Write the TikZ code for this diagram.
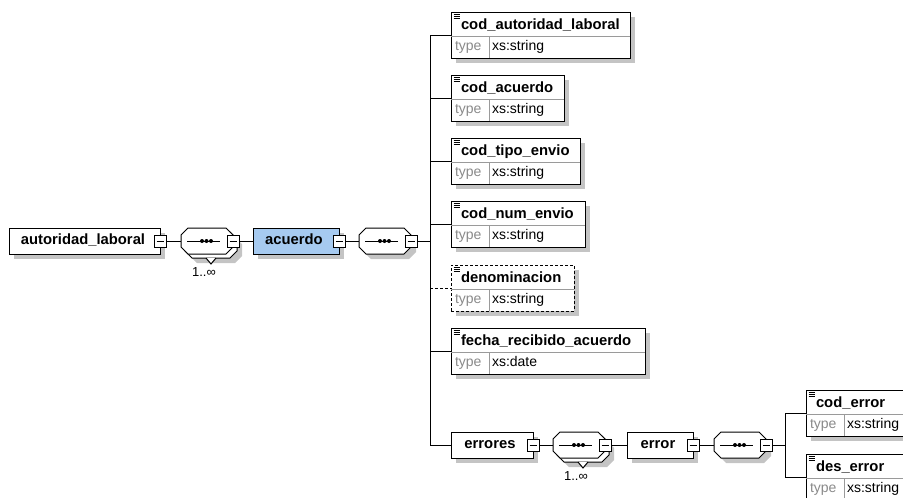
\documentclass[tikz,border=0pt]{standalone}
\usepackage{fontspec}
\setmainfont{Liberation Sans}
\usetikzlibrary{shadows,calc}
\definecolor{shadowgray}{HTML}{C4C4C4}
\definecolor{acblue}{HTML}{A6CAF0}
\definecolor{divgray}{HTML}{9A9A9A}
\definecolor{typegray}{HTML}{8A8A8A}
\tikzset{
 shad/.style={drop shadow={shadow xshift=5pt,shadow yshift=-5pt,fill=shadowgray,opacity=1}},
 elem/.style={draw, line width=1pt, fill=white, minimum height=26pt, inner sep=0pt, outer sep=0pt, shad},
 childbox/.style={draw, line width=1pt, fill=white, minimum height=46pt, inner sep=0pt, outer sep=0pt, anchor=west, shad},
 comp/.style={rectangle, draw=none, minimum width=52pt, minimum height=26pt, inner sep=0pt, outer sep=0pt},
 octo/.style={line width=1pt, draw=black, fill=white},
 minusbox/.style={draw, line width=1pt, fill=white, minimum size=12pt, inner sep=0pt, outer sep=0pt,
   path picture={\draw[line width=1pt] ([xshift=2.5pt]path picture bounding box.west) -- ([xshift=-2.5pt]path picture bounding box.east);}},
 conn/.style={line width=1pt, draw=black},
 divider/.style={line width=1pt, draw=divgray},
 ttl/.style={font=\fontsize{14.8}{16}\selectfont\bfseries, inner sep=0pt, outer sep=0pt},
 typelbl/.style={font=\fontsize{14}{16}\selectfont, text=typegray, inner sep=0pt, outer sep=0pt},
 typeval/.style={font=\fontsize{14}{16}\selectfont, text=black, inner sep=0pt, outer sep=0pt},
 mult/.style={font=\fontsize{13}{15}\selectfont, inner sep=0pt, outer sep=0pt},
 vnotch/.style={line width=1pt, fill=white},
}
% #1 name, #2 x (left), #3 y (center), #4 width, #5 title, #6 type, #7 extra style
\newcommand{\childel}[7]{%
 \node[childbox, minimum width=#4pt, #7] (#1) at (#2,#3) {};
 \draw[divider] ([yshift=-24pt]#1.north west) -- ([yshift=-24pt]#1.north east);
 \draw[divider] ([xshift=38pt,yshift=-24pt]#1.north west) -- ([xshift=38pt]#1.south west);
 \node[ttl, anchor=base west] (#1-t) at ([xshift=10pt,yshift=-17.5pt]#1.north west) {#5};
 \node[typelbl, anchor=base west] (#1-k) at ([xshift=4pt,yshift=-38pt]#1.north west) {type};
 \node[typeval, anchor=base west] (#1-v) at ([xshift=41pt,yshift=-38pt]#1.north west) {#6};
 \draw[line width=0.8pt] ([xshift=2.5pt,yshift=-2.5pt]#1.north west) -- ++(6,0);
 \draw[line width=0.8pt] ([xshift=2.5pt,yshift=-4.3pt]#1.north west) -- ++(6,0);
 \draw[line width=0.8pt] ([xshift=2.5pt,yshift=-6.1pt]#1.north west) -- ++(6,0);
}
% octagon outline on a compositor node: #1 name, #2 extra style
\newcommand{\octo}[2]{%
 \path[octo, #2] ([xshift=7pt]#1.north west) -- ([xshift=-7pt]#1.north east) -- ([yshift=-7pt]#1.north east)
   -- ([yshift=7pt]#1.south east) -- ([xshift=-7pt]#1.south east) -- ([xshift=7pt]#1.south west)
   -- ([yshift=7pt]#1.south west) -- ([yshift=-7pt]#1.north west) -- cycle;
}
\newcommand{\compdots}[1]{%
 \draw[line width=1pt] ([xshift=-20pt]#1.center) -- ([xshift=13pt]#1.center);
 \fill ([xshift=-5pt]#1.center) circle (2);
 \fill ([xshift=-0.5pt]#1.center) circle (2);
 \fill ([xshift=4pt]#1.center) circle (2);
}
\begin{document}
\begin{tikzpicture}[x=1pt,y=-1pt]
\useasboundingbox (0,0) rectangle (903,498);
\clip (0,0) rectangle (903,498);

% root element
\node[elem, minimum width=151pt] (root) at (84.5,241) {};
\node[ttl, anchor=base] (root-t) at (83,244.5) {autoridad\_laboral};
\node[minusbox] (root-m) at (root.east) {};

% sequence 1..inf
\node[comp] (c1b) at (211,245) {};
\octo{c1b}{shad}
\draw[vnotch] ([xshift=-5pt]c1b.south) -- ([yshift=-6pt]c1b.south) -- ([xshift=5pt]c1b.south);
\node[comp] (c1) at (207,241) {};
\octo{c1}{}
\compdots{c1}
\node[minusbox] (c1-m) at (c1.east) {};
\node[mult] (c1-x) at (204,272) {1..∞};

% acuerdo
\node[elem, fill=acblue, minimum width=86pt] (acu) at (296,241) {};
\node[ttl, anchor=base] (acu-t) at (294,244.5) {acuerdo};
\node[minusbox] (acu-m) at (acu.east) {};

% sequence 2
\node[comp] (c2) at (385,241) {};
\octo{c2}{shad}
\compdots{c2}
\node[minusbox] (c2-m) at (c2.east) {};

\coordinate (bus) at (430,241);
\coordinate (busT) at (430,35);
\coordinate (busB) at (430,445);

% children
\childel{ch1}{451}{35}{179}{cod\_autoridad\_laboral}{xs:string}{}
\childel{ch2}{451}{98}{113}{cod\_acuerdo}{xs:string}{}
\childel{ch3}{451}{161}{129}{cod\_tipo\_envio}{xs:string}{}
\childel{ch4}{451}{224}{134}{cod\_num\_envio}{xs:string}{}
\childel{ch5}{451}{288}{123}{denominacion}{xs:string}{dash pattern=on 3pt off 2pt}
\childel{ch6}{451}{351}{194}{fecha\_recibido\_acuerdo}{xs:date}{}

% errores
\node[elem, minimum width=82pt] (err) at (492,445) {};
\node[ttl, anchor=base] (err-t) at (490,448.5) {errores};
\node[minusbox] (err-m) at (err.east) {};

\node[comp] (c3b) at (583,449) {};
\octo{c3b}{shad}
\draw[vnotch] ([xshift=-5pt]c3b.south) -- ([yshift=-6pt]c3b.south) -- ([xshift=5pt]c3b.south);
\node[comp] (c3) at (579,445) {};
\octo{c3}{}
\compdots{c3}
\node[minusbox] (c3-m) at (c3.east) {};
\node[mult] (c3-x) at (576,476) {1..∞};

\node[elem, minimum width=66pt] (erel) at (660,445) {};
\node[ttl, anchor=base] (erel-t) at (658,448.5) {error};
\node[minusbox] (erel-m) at (erel.east) {};

\node[comp] (c4) at (740,445) {};
\octo{c4}{shad}
\compdots{c4}
\node[minusbox] (c4-m) at (c4.east) {};

\coordinate (bus2) at (785,445);
\coordinate (bus2T) at (785,413);
\coordinate (bus2B) at (785,477);

\childel{ce1}{806}{413}{120}{cod\_error}{xs:string}{}
\childel{ce2}{806}{477}{120}{des\_error}{xs:string}{}

% connectors
\draw[conn] (root-m) -- (c1);
\draw[conn] (c1-m) -- (acu);
\draw[conn] (acu-m) -- (c2);
\draw[conn] (c2-m) -- (bus);
\draw[conn] (busT) -- (busB);
\foreach \n in {ch1,ch2,ch3,ch4,ch6} \draw[conn] (\n.west -| bus) -- (\n.west);
\draw[conn, dash pattern=on 3pt off 2pt] (ch5.west -| bus) -- (ch5.west);
\draw[conn] (err.west -| bus) -- (err);
\draw[conn] (err-m) -- (c3);
\draw[conn] (c3-m) -- (erel);
\draw[conn] (erel-m) -- (c4);
\draw[conn] (c4-m) -- (bus2);
\draw[conn] (bus2T) -- (bus2B);
\draw[conn] (ce1.west -| bus2) -- (ce1.west);
\draw[conn] (ce2.west -| bus2) -- (ce2.west);
\end{tikzpicture}
\end{document}
